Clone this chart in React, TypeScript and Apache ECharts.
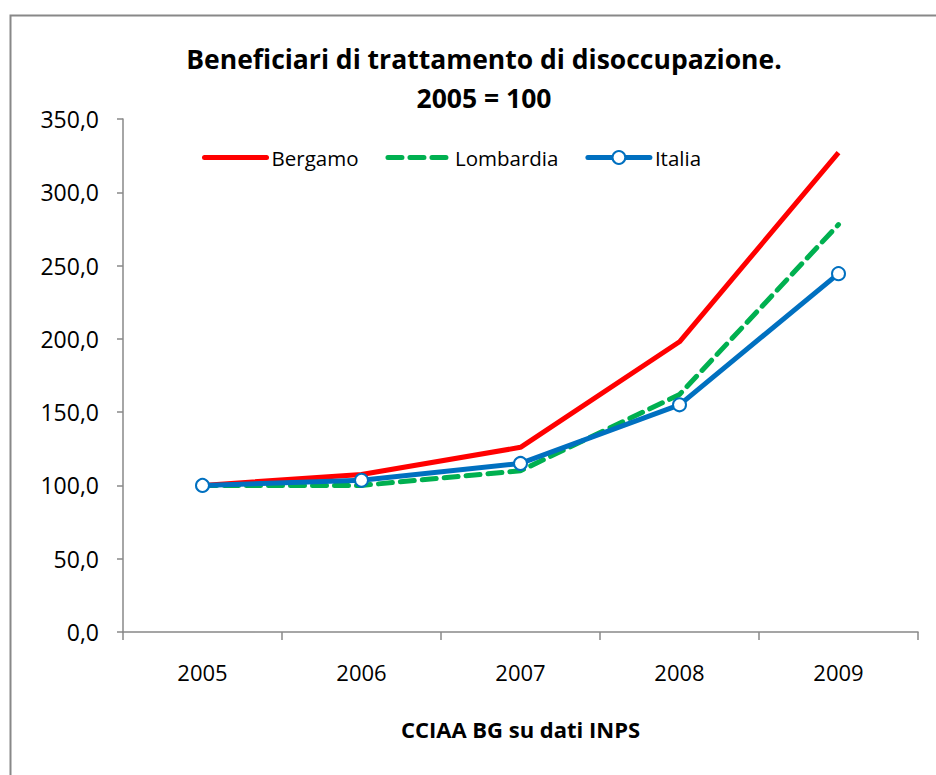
import React, { useEffect, useRef } from "react";
import * as echarts from "echarts";

const years = ["2005", "2006", "2007", "2008", "2009"];
const bergamo = [100, 107.5, 126, 198, 327];
const lombardia = [100, 100, 110, 162, 278];
const italia = [100, 103.5, 115, 155, 244.5];

const FONT = "'Open Sans', 'Noto Sans', sans-serif";
const RED = "#ff0000";
const GREEN = "#00b050";
const BLUE = "#0070c0";

export default function App() {
  const ref = useRef<HTMLDivElement>(null);
  useEffect(() => {
    const chart = echarts.init(ref.current!, undefined, { renderer: "svg" });
    chart.setOption({
      animation: false,
      backgroundColor: "#fff",
      textStyle: { fontFamily: FONT },
      title: {
        text: "Beneficiari di trattamento di disoccupazione.\n2005 = 100",
        left: 479,
        textAlign: "center",
        top: 34,
        textStyle: { fontSize: 26.5, fontWeight: "bold", color: "#000", lineHeight: 39, fontFamily: FONT },
      },
      legend: {
        left: 197,
        top: 142,
        itemWidth: 62,
        itemHeight: 16,
        itemGap: 27,
        textStyle: { fontSize: 20.5, color: "#000", fontFamily: FONT },
        data: [
          { name: "Bergamo", itemStyle: { opacity: 0 }, lineStyle: { width: 5, color: RED, cap: "round" } },
          { name: "Lombardia", itemStyle: { opacity: 0 }, lineStyle: { width: 5, color: GREEN, type: [14, 8], cap: "round" } },
          { name: "Italia", lineStyle: { width: 5, color: BLUE, cap: "round" } },
        ],
      },
      graphic: [
        {
          type: "rect",
          left: 8,
          top: 13,
          shape: { x: 0, y: 0, width: 960, height: 800 },
          style: { fill: "none", stroke: "#888", lineWidth: 2 },
          silent: true,
        },
      ],
      grid: { left: 123, right: 18, top: 119, bottom: 143, containLabel: false },
      xAxis: {
        type: "category",
        data: years,
        boundaryGap: true,
        name: "CCIAA BG su dati INPS",
        nameLocation: "middle",
        nameGap: 86,
        nameTextStyle: { fontSize: 22, fontWeight: "bold", color: "#000", fontFamily: FONT },
        axisLine: { lineStyle: { color: "#888", width: 1.5 } },
        axisTick: { show: true, length: 8, lineStyle: { color: "#888", width: 1.5 } },
        axisLabel: { fontSize: 22, color: "#000", margin: 29, fontFamily: FONT },
        splitLine: { show: false },
      },
      yAxis: {
        type: "value",
        min: 0,
        max: 350,
        interval: 50,
        axisLine: { show: true, lineStyle: { color: "#888", width: 1.5 } },
        axisTick: { show: true, length: 6, lineStyle: { color: "#888", width: 1.5 } },
        axisLabel: {
          fontSize: 23,
          color: "#000",
          margin: 24,
          fontFamily: FONT,
          formatter: (v: number) => v.toFixed(1).replace(".", ","),
        },
        splitLine: { show: false },
      },
      series: [
        {
          name: "Bergamo",
          type: "line",
          data: bergamo,
          symbol: "none",
          lineStyle: { color: RED, width: 5 },
          itemStyle: { color: RED },
          z: 2,
        },
        {
          name: "Lombardia",
          type: "line",
          data: lombardia,
          symbol: "none",
          lineStyle: { color: GREEN, width: 5, type: [14, 8], cap: "round" },
          itemStyle: { color: GREEN },
          z: 3,
        },
        {
          name: "Italia",
          type: "line",
          data: italia,
          symbol: "circle",
          symbolSize: 13,
          showAllSymbol: true,
          lineStyle: { color: BLUE, width: 5 },
          itemStyle: { color: "#fff", borderColor: BLUE, borderWidth: 2 },
          z: 4,
        },
      ],
    });
    return () => chart.dispose();
  }, []);
  return <div ref={ref} style={{ position: "fixed", left: 0, top: 0, width: 936, height: 775 }} />;
}
